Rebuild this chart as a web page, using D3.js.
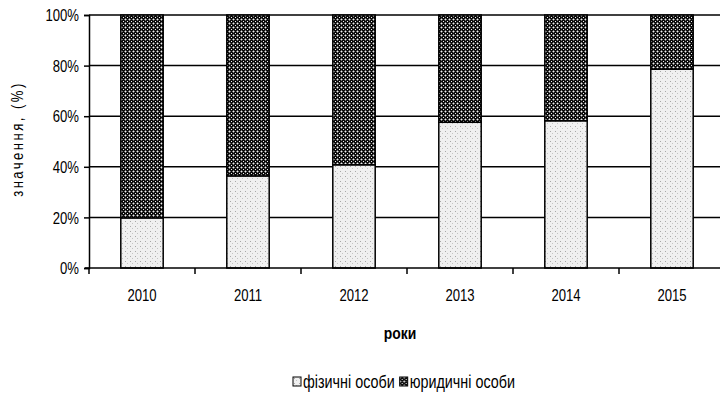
<!DOCTYPE html>
<html>
<head>
<meta charset="utf-8">
<script src="https://cdn.jsdelivr.net/npm/d3@7"></script>
<style>
  body { margin: 0; background: #fff; }
  text { font-family: "Liberation Sans", Arial, sans-serif; fill: #000; }
</style>
</head>
<body>
<script>
var years = ["2010", "2011", "2012", "2013", "2014", "2015"];
var fizychni = [19.8, 36.4, 40.8, 57.6, 58.2, 78.6];
var yurydychni = fizychni.map(function(d) { return 100 - d; });
var yTicks = [0, 20, 40, 60, 80, 100];
var seriesNames = ["фізичні особи", "юридичні особи"];

var margin = {top: 15, right: -5, bottom: 125, left: 89};
var width = 720 - margin.left - margin.right;
var height = 393 - margin.top - margin.bottom;
var narrow = 0.82; // Arial Narrow look

var svg = d3.select("body")
  .append("svg")
    .attr("width", 720)
    .attr("height", 393);

var defs = svg.append("defs");
var dark = defs.append("pattern")
    .attr("id", "dark")
    .attr("patternUnits", "userSpaceOnUse")
    .attr("width", 4).attr("height", 4);
dark.append("rect").attr("width", 4).attr("height", 4).attr("fill", "#0c0c0c");
[[0, 0, "#eee"], [2, 2, "#eee"], [1, 0, "#777"], [3, 0, "#777"], [0, 1, "#777"], [0, 3, "#777"]].forEach(function(p) {
  dark.append("rect").attr("x", p[0]).attr("y", p[1]).attr("width", 1).attr("height", 1).attr("fill", p[2]);
});

var light = defs.append("pattern")
    .attr("id", "light")
    .attr("patternUnits", "userSpaceOnUse")
    .attr("width", 5).attr("height", 5);
light.append("rect").attr("width", 5).attr("height", 5).attr("fill", "#f0f0f0");
light.append("rect").attr("x", 1).attr("y", 1).attr("width", 1).attr("height", 1).attr("fill", "#a8a8a8");
light.append("rect").attr("x", 3).attr("y", 3).attr("width", 1).attr("height", 1).attr("fill", "#c4c4c4");

var g = svg.append("g")
    .attr("transform", "translate(" + margin.left + "," + margin.top + ")");

var x = d3.scaleBand().domain(years).range([0, 636]).paddingInner(0.6).paddingOuter(0.3);
var y = d3.scaleLinear().domain([0, 100]).range([height, 0]);

// gridlines
g.selectAll("line.grid")
  .data(yTicks.filter(function(d) { return d > 0; }))
  .enter()
  .append("line")
    .attr("class", "grid")
    .attr("x1", 0).attr("x2", width)
    .attr("y1", function(d) { return y(d); })
    .attr("y2", function(d) { return y(d); })
    .attr("stroke", "#000")
    .attr("stroke-width", 1.5);

// stacked bars
var stack = years.map(function(yr, i) { return {year: yr, f: fizychni[i], u: yurydychni[i]}; });
var bars = g.selectAll("g.bar").data(stack).enter().append("g");
bars.append("rect")
    .attr("x", function(d) { return x(d.year); })
    .attr("width", x.bandwidth())
    .attr("y", function(d) { return y(d.f); })
    .attr("height", function(d) { return y(0) - y(d.f); })
    .attr("fill", "url(#light)")
    .attr("stroke", "#000").attr("stroke-width", 1.5);
bars.append("rect")
    .attr("x", function(d) { return x(d.year); })
    .attr("width", x.bandwidth())
    .attr("y", function(d) { return y(100); })
    .attr("height", function(d) { return y(d.f) - y(100); })
    .attr("fill", "url(#dark)")
    .attr("stroke", "#000").attr("stroke-width", 1.5);

// y axis
var yAxis = g.append("g")
    .call(d3.axisLeft(y).tickValues(yTicks).tickSize(5).tickFormat(function(d) { return d + "%"; }));
yAxis.select(".domain").attr("stroke-width", 1.5);
yAxis.selectAll(".tick line").attr("stroke-width", 1.5);
yAxis.selectAll("text")
    .attr("font-size", 16).attr("font-family", null)
    .attr("x", 0).attr("dy", "0.36em")
    .attr("transform", "translate(-10,0) scale(" + narrow + ",1)");

// x axis
var xAxisScale = d3.scaleLinear().domain([0, 6]).range([0, 636]);
var xAxis = g.append("g")
    .attr("transform", "translate(0," + height + ")");
xAxis.append("line")
    .attr("x1", -4).attr("x2", width)
    .attr("stroke", "#000").attr("stroke-width", 1.5);
xAxis.selectAll("line.xt")
  .data(d3.range(0, 6))
  .enter()
  .append("line")
    .attr("x1", function(d) { return xAxisScale(d); })
    .attr("x2", function(d) { return xAxisScale(d); })
    .attr("y1", 0).attr("y2", 6)
    .attr("stroke", "#000").attr("stroke-width", 1.5);
xAxis.selectAll("text.xl")
  .data(years)
  .enter()
  .append("text")
    .attr("transform", function(d) {
      return "translate(" + (x(d) + x.bandwidth() / 2) + ",33) scale(" + narrow + ",1)";
    })
    .attr("text-anchor", "middle")
    .attr("font-size", 16)
    .text(function(d) { return d; });

// axis titles
svg.append("text")
    .attr("transform", "translate(400,339) scale(" + narrow + ",1)")
    .attr("text-anchor", "middle")
    .attr("font-size", 17)
    .attr("font-weight", "bold")
    .text("роки");

svg.append("text")
    .attr("transform", "translate(23,139) rotate(-90) scale(" + narrow + ",1)")
    .attr("text-anchor", "middle")
    .attr("font-size", 16)
    .attr("letter-spacing", 3)
    .text("значення, (%)");

// legend
var legend = svg.append("g").attr("transform", "translate(293,377)");
var lxPos = 0;
seriesNames.forEach(function(name, i) {
  var lg = legend.append("g").attr("transform", "translate(" + lxPos + ",0)");
  lg.append("rect")
      .attr("width", 8).attr("height", 9)
      .attr("fill", i === 0 ? "url(#light)" : "url(#dark)")
      .attr("stroke", "#000").attr("stroke-width", 1);
  var t = lg.append("text")
      .attr("transform", "translate(10,11) scale(" + narrow + ",1)")
      .attr("font-size", 17.5)
      .text(name);
  lxPos += 10 + t.node().getComputedTextLength() * narrow + 5;
});
</script>
</body>
</html>
